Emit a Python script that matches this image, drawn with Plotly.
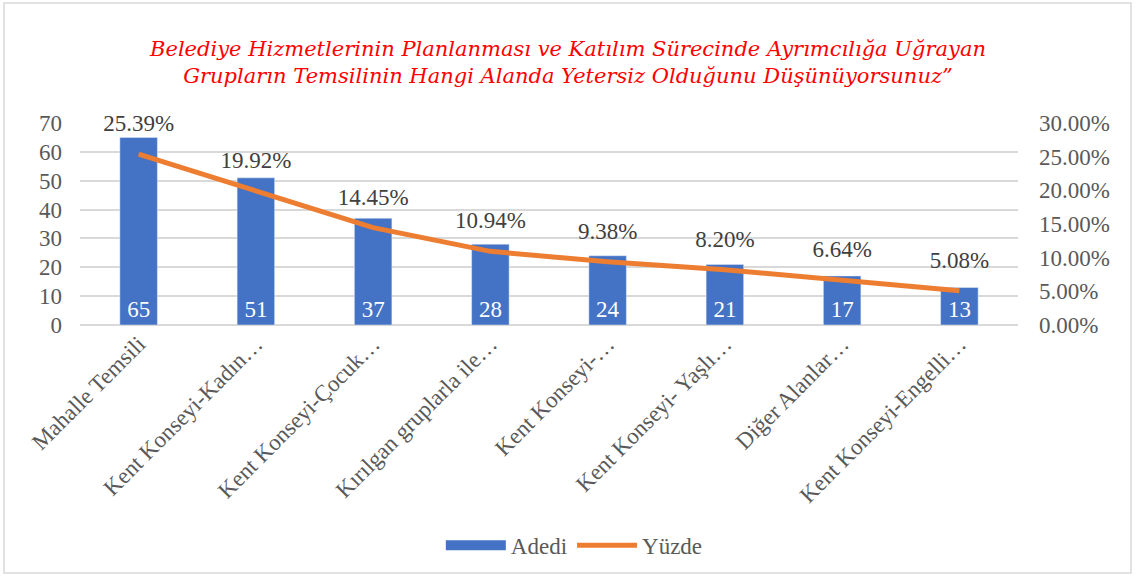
import plotly.graph_objects as go

categories = ["Mahalle Temsili", "Kent Konseyi-Kadın…", "Kent Konseyi-Çocuk…",
              "Kırılgan gruplarla ile…", "Kent Konseyi-…", "Kent Konseyi- Yaşlı…",
              "Diğer Alanlar…", "Kent Konseyi-Engelli…"]
adedi = [65, 51, 37, 28, 24, 21, 17, 13]
yuzde = [0.2539, 0.1992, 0.1445, 0.1094, 0.0938, 0.0820, 0.0664, 0.0508]

title_text = ("<i>Belediye Hizmetlerinin Planlanması ve Katılım Sürecinde Ayrımcılığa Uğrayan<br>"
              "Grupların Temsilinin Hangi Alanda Yetersiz Olduğunu Düşünüyorsunuz”</i>")

FONT = "Liberation Serif"
GREY = "#595959"
FS = 23
BLUE = "#4472C4"
ORANGE = "#ED7D31"

fig = go.Figure()
fig.add_trace(go.Bar(
    x=categories, y=adedi, name="Adedi", marker_color=BLUE, showlegend=False,
    width=0.32, text=[str(v) for v in adedi], textposition="inside",
    insidetextanchor="start", textfont=dict(color="white", size=FS, family=FONT),
    textangle=0, cliponaxis=False))
# legend entry for the bars drawn as a wide block, like the original
fig.add_trace(go.Scatter(
    x=[None], y=[None], name="Adedi", mode="lines",
    line=dict(color=BLUE, width=11), showlegend=True))
fig.add_trace(go.Scatter(
    x=categories, y=yuzde, name="Yüzde", yaxis="y2", mode="lines+markers+text",
    line=dict(color=ORANGE, width=5),
    marker=dict(size=26, color="rgba(0,0,0,0)"),
    text=[f"{v*100:.2f}%" for v in yuzde], textposition="top center",
    textfont=dict(color="#404040", size=FS, family=FONT), cliponaxis=False))

fig.update_layout(
    width=1136, height=576,
    margin=dict(l=80, r=118, t=123, b=251, autoexpand=False),
    paper_bgcolor="white", plot_bgcolor="white",
    font=dict(family=FONT, size=FS, color=GREY),
    title=dict(text=title_text, x=0.5, xanchor="center", y=0.903, yanchor="middle",
               font=dict(family="DejaVu Serif", size=21, color="#FF0000")),
    xaxis=dict(tickangle=-45, showgrid=False, showline=False, ticks="",
               range=[-0.5, 7.5], autorange=False,
               tickfont=dict(size=FS, color=GREY), automargin=False),
    yaxis=dict(range=[0, 70], dtick=10, showgrid=True, gridcolor="#D9D9D9",
               gridwidth=1.5, zeroline=True, zerolinecolor="#D9D9D9", zerolinewidth=1.5,
               tickfont=dict(size=FS, color=GREY), ticks="", automargin=False,
               ticklabelstandoff=17),
    yaxis2=dict(range=[0, 0.30], dtick=0.05, tickformat=".2%", overlaying="y",
                side="right", showgrid=False, zeroline=False, ticks="",
                tickfont=dict(size=FS, color=GREY), automargin=False,
                ticklabelstandoff=20),
    legend=dict(orientation="h", x=0.527, xanchor="center", y=-1.09, yanchor="middle",
                font=dict(size=FS, color=GREY), bgcolor="rgba(0,0,0,0)",
                itemwidth=60),
    bargap=0.68,
    showlegend=True,
    shapes=[dict(type="rect", xref="paper", yref="paper",
                 x0=-0.081, x1=1.1205, y0=-1.228, y1=1.594,
                 line=dict(color="#D9D9D9", width=1.5), layer="below")],
)

fig.write_html("out.html", config={"displayModeBar": False},
               post_script="document.body.style.margin='0';")
